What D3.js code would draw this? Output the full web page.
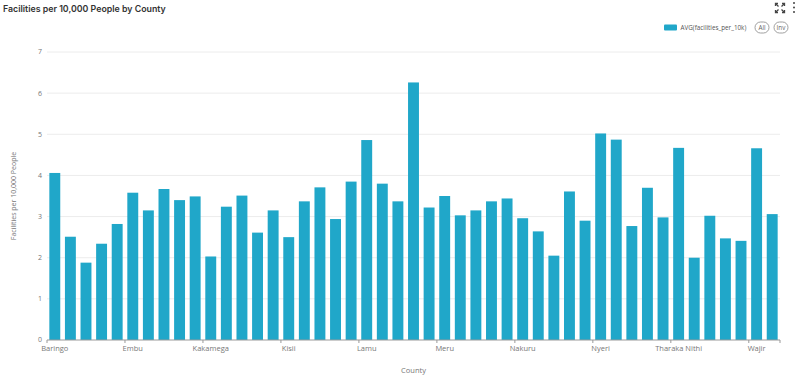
<!DOCTYPE html>
<html>
<head>
<meta charset="utf-8">
<script src="https://cdn.jsdelivr.net/npm/d3@7"></script>
<style>
  body { margin: 0; background: #fff; }
  svg { display: block; }
</style>
</head>
<body>
<svg id="chart" width="800" height="388"></svg>
<script>
// counties in alphabetical order (47)
const counties = ["Baringo", "Bomet", "Bungoma", "Busia", "Elgeyo Marakwet", "Embu", "Garissa", "Homa Bay",
  "Isiolo", "Kajiado", "Kakamega", "Kericho", "Kiambu", "Kilifi", "Kirinyaga", "Kisii", "Kisumu", "Kitui",
  "Kwale", "Laikipia", "Lamu", "Machakos", "Makueni", "Mandera", "Marsabit", "Meru", "Migori", "Mombasa",
  "Murang'a", "Nairobi", "Nakuru", "Nandi", "Narok", "Nyamira", "Nyandarua", "Nyeri", "Samburu", "Siaya",
  "Taita Taveta", "Tana River", "Tharaka Nithi", "Trans Nzoia", "Turkana", "Uasin Gishu", "Vihiga", "Wajir",
  "West Pokot"];

const facilitiesPer10k = [4.06, 2.51, 1.88, 2.34, 2.82, 3.58, 3.15, 3.67, 3.40, 3.49,
  2.03, 3.24, 3.51, 2.61, 3.15, 2.50, 3.37, 3.71, 2.94, 3.85,
  4.86, 3.80, 3.37, 6.26, 3.22, 3.50, 3.03, 3.15, 3.37, 3.44,
  2.96, 2.64, 2.05, 3.61, 2.90, 5.02, 4.87, 2.77, 3.70, 2.98,
  4.67, 2.00, 3.02, 2.47, 2.41, 4.66, 3.06];

const yTicks = [0, 1, 2, 3, 4, 5, 6, 7];
const labelEvery = 5;

const barColor = "#20a7c9";
const svg = d3.select("#chart");
const m = { top: 52, right: 20, bottom: 48, left: 47 };
const W = 800, H = 388;

const x = d3.scaleBand().domain(counties).range([m.left, W - m.right]).paddingInner(0.3).paddingOuter(0.15);
const y = d3.scaleLinear().domain([0, 7]).range([H - m.bottom, m.top]);

// title
svg.append("text").attr("x", 3).attr("y", 12)
  .attr("font-family", "Inter, sans-serif").attr("font-size", 8.8).attr("font-weight", 600)
  .attr("fill", "#333").text("Facilities per 10,000 People by County");

// corner icons
const ic = svg.append("g").attr("stroke", "#444").attr("stroke-width", 1.3).attr("fill", "none");
[[-1, -1], [1, -1], [-1, 1], [1, 1]].forEach(([dx, dy]) => {
  const cx = 780, cy = 8;
  ic.append("path").attr("d", `M${cx + dx * 1.5},${cy + dy * 1.5} L${cx + dx * 4.5},${cy + dy * 4.5}`);
  ic.append("path").attr("d", `M${cx + dx * 4.5},${cy + dy * 2} L${cx + dx * 4.5},${cy + dy * 4.5} L${cx + dx * 2},${cy + dy * 4.5}`);
});
[3, 7.5, 12].forEach(cy => svg.append("circle").attr("cx", 794).attr("cy", cy).attr("r", 1).attr("fill", "#444"));

// gridlines
svg.append("g").selectAll("line").data(yTicks.filter(d => d > 0)).join("line")
  .attr("x1", m.left).attr("x2", W - m.right)
  .attr("y1", d => y(d)).attr("y2", d => y(d))
  .attr("stroke", "#ececec").attr("stroke-width", 1);

// y axis labels
svg.append("g").selectAll("text").data(yTicks).join("text")
  .attr("x", 42).attr("y", d => y(d)).attr("dy", "0.35em")
  .attr("text-anchor", "end").attr("font-family", "'Open Sans', sans-serif")
  .attr("font-size", 7).attr("fill", "#777").text(d => d);

// bars
svg.append("g").selectAll("rect").data(facilitiesPer10k).join("rect")
  .attr("x", (d, i) => x(counties[i]))
  .attr("width", x.bandwidth())
  .attr("y", d => y(d))
  .attr("height", d => y(0) - y(d))
  .attr("fill", barColor);

// x axis
const xAxis = svg.append("g").attr("transform", `translate(0,${y(0)})`);
xAxis.append("line").attr("x1", m.left).attr("x2", W - m.right).attr("stroke", "#999").attr("stroke-width", 1);
const step = x.step();
const tickPos = counties.map((c, i) => i).filter(i => i % labelEvery === 0).map(i => x(counties[i]) - step * x.paddingInner() / 2);
tickPos.push(W - m.right);
xAxis.selectAll("line.tick").data(tickPos).join("line").attr("class", "tick")
  .attr("x1", d => d).attr("x2", d => d).attr("y1", 0).attr("y2", 3)
  .attr("stroke", "#999");
xAxis.selectAll("text").data(counties.filter((c, i) => i % labelEvery === 0)).join("text")
  .attr("x", d => x(d) + x.bandwidth() / 2).attr("y", 11)
  .attr("text-anchor", "middle").attr("font-family", "'Open Sans', sans-serif")
  .attr("font-size", 7.5).attr("fill", "#777").text(d => d);

// axis titles
svg.append("text").attr("x", (m.left + W - m.right) / 2).attr("y", 373)
  .attr("text-anchor", "middle").attr("font-family", "'Open Sans', sans-serif")
  .attr("font-size", 7.5).attr("fill", "#777").text("County");
svg.append("text").attr("transform", `translate(16,${(y(0) + y(7)) / 2}) rotate(-90)`)
  .attr("text-anchor", "middle").attr("font-family", "'Open Sans', sans-serif")
  .attr("font-size", 7).attr("fill", "#777").text("Facilities per 10,000 People");

// legend
const lg = svg.append("g").attr("font-family", "'Open Sans', sans-serif");
lg.append("rect").attr("x", 664).attr("y", 24.5).attr("width", 13).attr("height", 6).attr("rx", 1).attr("fill", barColor);
lg.append("text").attr("x", 680.5).attr("y", 27.5).attr("dy", "0.35em").attr("font-size", 6.3)
  .attr("fill", "#555").text("AVG(facilities_per_10k)");
[["All", 762], ["Inv", 781]].forEach(([t, cx]) => {
  lg.append("rect").attr("x", cx - 7).attr("y", 22).attr("width", 14).attr("height", 11).attr("rx", 5.5)
    .attr("fill", "none").attr("stroke", "#888").attr("stroke-width", 0.8);
  lg.append("text").attr("x", cx).attr("y", 27.5).attr("dy", "0.35em").attr("text-anchor", "middle")
    .attr("font-size", 6.3).attr("fill", "#666").text(t);
});
</script>
</body>
</html>
